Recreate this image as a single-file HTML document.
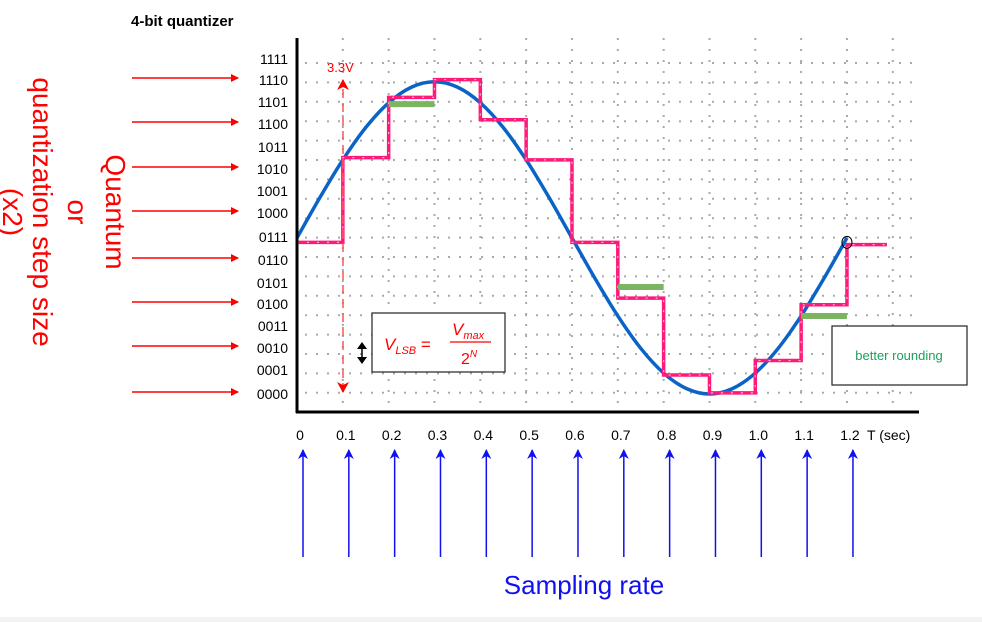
<!DOCTYPE html>
<html><head><meta charset="utf-8"><style>
html,body{margin:0;padding:0;background:#fff;width:982px;height:622px;overflow:hidden;font-family:"Liberation Sans",sans-serif}
svg text{font-family:"Liberation Sans",sans-serif}
</style></head><body>
<svg id="c" width="982" height="622" viewBox="0 0 982 622" xmlns="http://www.w3.org/2000/svg">
<defs>
<marker id="ar" markerWidth="8" markerHeight="8" refX="7" refY="4" orient="auto-start-reverse" markerUnits="userSpaceOnUse"><path d="M0,0 L8,4 L0,8 Z" fill="#f00"/></marker>
<marker id="ar2" markerWidth="12" markerHeight="12" refX="10" refY="6" orient="auto-start-reverse" markerUnits="userSpaceOnUse"><path d="M0,0 L11,6 L0,12 L3,6 Z" fill="#f00"/></marker>
<marker id="ab" markerWidth="10" markerHeight="12" refX="9" refY="5" orient="auto" markerUnits="userSpaceOnUse"><path d="M0,0 L10,5 L0,10 L3,5 Z" fill="#1010f0"/></marker>
</defs>
<rect x="0" y="617" width="982" height="5" fill="#f2f2f2"/>
<text x="131" y="26" font-size="15" font-weight="bold">4-bit quantizer</text>
<g id="grid"></g>
<g id="ylabels"></g>
<g id="xlabels"></g>
<g id="marks"></g>
<line x1="297" y1="38" x2="297" y2="413" stroke="#000" stroke-width="3"/>
<line x1="296" y1="412" x2="919" y2="412" stroke="#000" stroke-width="3"/>
<text x="867" y="440" font-size="14">T (sec)</text>
<line x1="343" y1="392" x2="343" y2="80" stroke="#f55" stroke-width="1.5" stroke-dasharray="9,5" marker-end="url(#ar2)" marker-start="url(#ar2)"/>
<text x="327" y="72" font-size="13" fill="#f00">3.3V</text>
<g><path d="M362,342 L357,349 L367,349 Z M362,364 L357,357 L367,357 Z" fill="#000"/><line x1="362" y1="346" x2="362" y2="360" stroke="#000" stroke-width="1.5"/></g>
<rect x="372" y="313" width="133" height="59" fill="#fff" stroke="#222" stroke-width="1.2"/>
<g fill="#f00" font-style="italic">
<text x="384" y="350" font-size="17" font-family="Liberation Serif,serif">V<tspan font-size="11" dy="4">LSB</tspan><tspan dy="-4" font-style="normal"> =</tspan></text>
<text x="452" y="335" font-size="17" font-family="Liberation Serif,serif">V<tspan font-size="11" dy="4">max</tspan></text>
<line x1="450" y1="342" x2="491" y2="342" stroke="#f00" stroke-width="1.2"/>
<text x="461" y="364" font-size="16" font-style="normal" font-family="Liberation Serif,serif">2<tspan font-size="10" dy="-7" font-style="italic">N</tspan></text>
</g>
<rect x="832" y="326" width="135" height="59" fill="#fff" stroke="#222" stroke-width="1.2"/>
<text x="899" y="360" font-size="13" fill="#1aa05a" text-anchor="middle">better rounding</text>
<g id="leftarrows"></g>
<text x="584" y="594" font-size="26" fill="#1010f0" text-anchor="middle">Sampling rate</text>
<g fill="#f00" font-size="28" text-anchor="middle">
<text transform="translate(106,212) rotate(90)">Quantum</text>
<text transform="translate(68,212) rotate(90)">or</text>
<text transform="translate(33,212) rotate(90)">quantization step size</text>
<text transform="translate(3,212) rotate(90)">(x2)</text>
</g>
</svg>
<script>
const levelLabels=["0000","0001","0010","0011","0100","0101","0110","0111","1000","1001","1010","1011","1100","1101","1110","1111"];
const labelY=[394,370,348,326,304,283,260,237,213,191,169,147,124,102,80,59];
const tickLabels=["0","0.1","0.2","0.3","0.4","0.5","0.6","0.7","0.8","0.9","1.0","1.1","1.2"];
const sampleTimes=[0,0.1,0.2,0.3,0.4,0.5,0.6,0.7,0.8,0.9,1.0,1.1,1.2];
const quantized=[6.8,10.6,13.3,14.1,12.3,10.5,6.8,4.3,0.85,0.05,1.5,4.0,6.7];
const analogT=[0,0.05,0.1,0.15,0.2,0.25,0.3,0.35,0.4,0.45,0.5,0.55,0.6,0.65,0.7,0.75,0.8,0.85,0.9,0.95,1.0,1.05,1.1,1.15,1.2];
const analogV=[7,8.81,10.5,11.95,13.06,13.76,14,13.76,13.06,11.95,10.5,8.81,7,5.19,3.5,2.05,0.94,0.24,0,0.24,0.94,2.05,3.5,5.19,7];
const betterStart=[0.2,0.7,1.1];
const betterLevel=[13.0,4.8,3.5];
const arrowLevels=[14,12,10,8,6,4,2,0];

const NS="http://www.w3.org/2000/svg";
const xs=t=>297+t*458.3;
const ys=v=>394-v*22.3;
function mk(p,tag,at){const e=document.createElementNS(NS,tag);for(const k in at)e.setAttribute(k,at[k]);p.appendChild(e);return e;}
const grid=document.getElementById('grid'),yl=document.getElementById('ylabels'),xl=document.getElementById('xlabels'),marks=document.getElementById('marks'),la=document.getElementById('leftarrows');
for(let i=0;i<18;i++){const y=63+i*19.4;
 const g=mk(grid,'line',{x1:305,x2:918,y1:y,y2:y,stroke:'#aaa','stroke-width':2,'stroke-dasharray':'2,9'});
 
 }
for(let i=1;i<14;i++){const x=xs(i*0.1);
 const g=mk(grid,'line',{x1:x,x2:x,y1:38,y2:410,stroke:'#aaa','stroke-width':2,'stroke-dasharray':'2,9'});
 
 }
levelLabels.forEach((s,i)=>{const t=mk(yl,'text',{x:288,y:labelY[i]+5,'font-size':14,'text-anchor':'end'});t.textContent=s;
 
 });
tickLabels.forEach((s,i)=>{const x=xs(sampleTimes[i]);const t=mk(xl,'text',{x:x+3,y:440,'font-size':14,'text-anchor':'middle'});t.textContent=s;
 
 
 const a=mk(xl,'line',{x1:x+6,y1:557,x2:x+6,y2:450,stroke:'#1010f0','stroke-width':1.5,'marker-end':'url(#ab)'});
 
 });
arrowLevels.forEach(l=>{const y=labelY[l]-2;const a=mk(la,'line',{x1:132,y1:y,x2:238,y2:y,stroke:'#f00','stroke-width':1.5,'marker-end':'url(#ar)'});
 
 });
const P=analogT.map((t,i)=>[xs(t),ys(analogV[i])]);
let d='M'+P[0][0]+','+P[0][1];
for(let i=0;i<P.length-1;i++){const p0=P[Math.max(0,i-1)],p1=P[i],p2=P[i+1],p3=P[Math.min(P.length-1,i+2)];
 d+=` C${p1[0]+(p2[0]-p0[0])/6},${p1[1]+(p2[1]-p0[1])/6} ${p2[0]-(p3[0]-p1[0])/6},${p2[1]-(p3[1]-p1[1])/6} ${p2[0]},${p2[1]}`;}
const curve=mk(marks,'path',{d:d,fill:'none',stroke:'#0a64c8','stroke-width':3.5});


let s='';
sampleTimes.forEach((t,i)=>{const x=xs(t),y=ys(quantized[i]);const xe=i<sampleTimes.length-1?xs(sampleTimes[i+1]):xs(t)+40;
 s+=(i===0?'M':'L')+x+','+y+' L'+xe+','+y;});
const stair=mk(marks,'path',{d:s,fill:'none',stroke:'#ff1a7a','stroke-width':3.5});


const stair2=mk(marks,'path',{d:s,fill:'none',stroke:'#ffb0d0','stroke-width':1.2,'stroke-dasharray':'2,8'});


betterStart.forEach((t,i)=>{const y=ys(betterLevel[i]);const b=mk(marks,'line',{x1:xs(t),x2:xs(t+0.1),y1:y,y2:y,stroke:'#7cb562','stroke-width':6});
 
 });
const c=mk(marks,'ellipse',{cx:xs(1.2),cy:ys(6.8),rx:5,ry:6,fill:'none',stroke:'#000','stroke-width':1});


</script>
</body></html>
